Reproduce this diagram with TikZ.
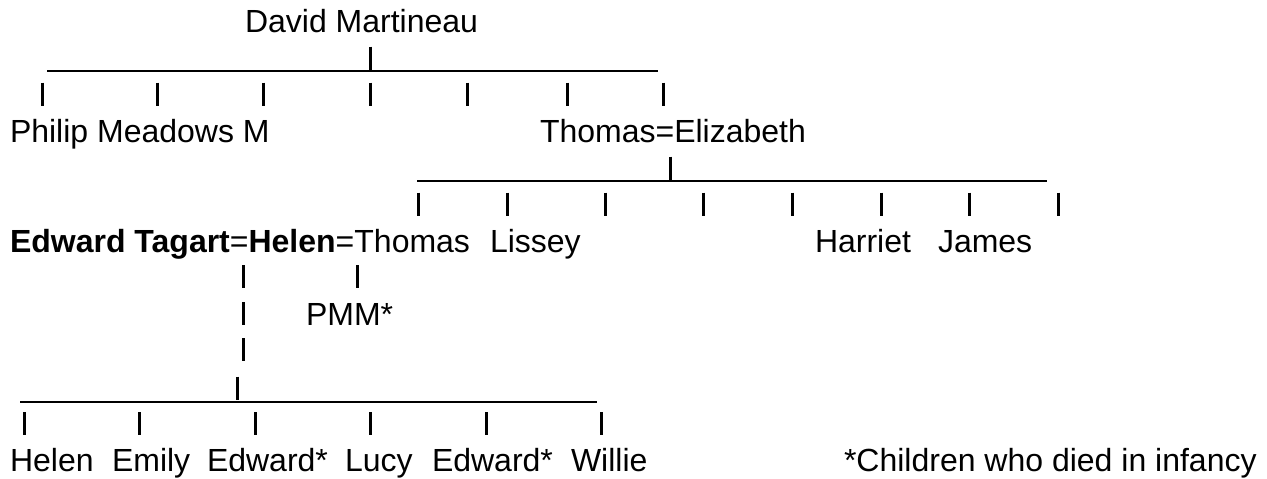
\documentclass[tikz,border=0pt]{standalone}
\usepackage{fontspec}
\setmainfont{Liberation Sans}
\begin{document}
\begin{tikzpicture}[x=1pt,y=-1pt,
  txt/.style={anchor=base west,inner sep=0pt,outer sep=0pt,font=\fontsize{32}{36}\selectfont},
  bar/.style={line width=3pt},
  under/.style={line width=1.6pt}]
\useasboundingbox (0,0) rectangle (1267,479);
% ---- generation 1
\node[txt] (david) at (245,32) {David Martineau};
\coordinate (d0) at (370,46.5);
\coordinate (d1) at (370,69.5);
\draw[bar] (d0) -- (d1);
\coordinate (u1a) at (47,71);
\coordinate (u1b) at (658,71);
\draw[under] (u1a) -- (u1b);
\foreach \x [count=\i] in {42,157,263,370,467,567,663}{
  \coordinate (p2t\i) at (\x,82.5);
  \coordinate (p2b\i) at (\x,105.5);
  \draw[bar] (p2t\i) -- (p2b\i);
}
% ---- generation 2
\node[txt] (philip) at (10,142) {Philip Meadows M};
\node[txt] (thomasE) at (540,142) {Thomas=Elizabeth};
\coordinate (t0) at (670,156.5);
\coordinate (t1) at (670,179.5);
\draw[bar] (t0) -- (t1);
\coordinate (u4a) at (417,181);
\coordinate (u4b) at (1047,181);
\draw[under] (u4a) -- (u4b);
\foreach \x [count=\i] in {418,507,605,703,792,881,969,1058}{
  \coordinate (p5t\i) at (\x,192.5);
  \coordinate (p5b\i) at (\x,215.5);
  \draw[bar] (p5t\i) -- (p5b\i);
}
% ---- generation 3
\node[txt] (edward) at (10,252) {\textbf{Edward Tagart}=\textbf{Helen}=Thomas};
\node[txt] (lissey) at (490,252) {Lissey};
\node[txt] (harriet) at (815,252) {Harriet};
\node[txt] (james) at (938,252) {James};
\foreach \y [count=\i] in {288,325,361}{
  \coordinate (hAt\i) at (243,\y-23);
  \coordinate (hAb\i) at (243,\y);
  \draw[bar] (hAt\i) -- (hAb\i);
}
\coordinate (pmt) at (357,265);
\coordinate (pmb) at (357,288);
\draw[bar] (pmt) -- (pmb);
\node[txt] (pmm) at (306,325) {PMM*};
\coordinate (h0) at (237,376.5);
\coordinate (h1) at (237,399.5);
\draw[bar] (h0) -- (h1);
\coordinate (u10a) at (20,402);
\coordinate (u10b) at (597,402);
\draw[under] (u10a) -- (u10b);
\foreach \x [count=\i] in {24,139,255,370,486,601}{
  \coordinate (p11t\i) at (\x,412);
  \coordinate (p11b\i) at (\x,435);
  \draw[bar] (p11t\i) -- (p11b\i);
}
% ---- generation 4
\node[txt] (helen) at (10,471) {Helen};
\node[txt] (emily) at (112,471) {Emily};
\node[txt] (edwardA) at (207,471) {Edward*};
\node[txt] (lucy) at (345,471) {Lucy};
\node[txt] (edwardB) at (432,471) {Edward*};
\node[txt] (willie) at (571,471) {Willie};
\node[txt] (note) at (844,471) {*Children who died in infancy};
\end{tikzpicture}
\end{document}
